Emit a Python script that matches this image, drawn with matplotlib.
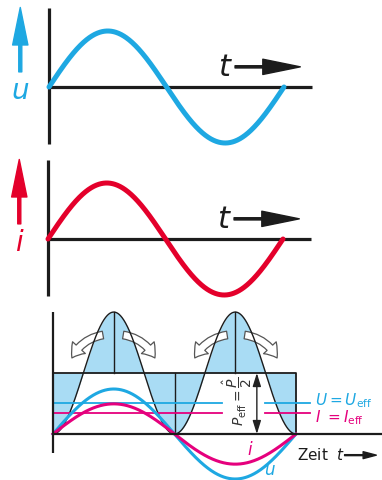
import numpy as np
import matplotlib.pyplot as plt
from matplotlib.patches import FancyArrowPatch

W, H = 382, 480

# values (drawing units, phase in degrees)
phase = np.linspace(0, 360, 721)
wave_amp = [1.0, 1.0]            # top u, middle i
wave_colors = ["#1ea8e2", "#e4002b"]
wave_labels = ["u", "i"]
u_hat, i_hat, p_hat = 1.0, 0.67, 2.71
u_eff, i_eff, p_eff = 0.69, 0.47, 1.355

blue = "#1ea8e2"
pink = "#e5007d"
fill = "#a9dcf4"
ink = "#1c1c1c"

fig = plt.figure(figsize=(W / 100, H / 100), dpi=100)


def panel(top, bottom, x0, y0, sx, sy):
    ax = fig.add_axes([0, 1 - bottom / H, 1, (bottom - top) / H])
    ax.set_xlim(-x0 / sx, (W - x0) / sx)
    ax.set_ylim(-(bottom - y0) / sy, (y0 - top) / sy)
    ax.axis("off")
    return ax


def arrow(ax, a, b, color, hl, hw, tw, ms=10, **kw):
    ax.add_patch(FancyArrowPatch(a, b, arrowstyle=f"simple,head_length={hl},head_width={hw},tail_width={tw}",
                                 mutation_scale=ms, color=color, shrinkA=0, shrinkB=0, **kw))


# top two panels: u and i
boxes = [(0, 155, 49, 87), (155, 305, 48, 239)]
for (top, bottom, x0, y0), amp, col, lab in zip(boxes, wave_amp, wave_colors, wave_labels):
    ax = panel(top, bottom, x0, y0, 235 / 360, 56)
    ax.plot([0, 0], [1.41, -1.02], color=ink, lw=2.3, solid_capstyle="butt")
    ax.plot([0, 403], [0, 0], color=ink, lw=2.3, solid_capstyle="butt")
    ax.plot(phase, amp * np.sin(np.radians(phase)), color=col, lw=3.6, solid_capstyle="round")
    ax.text(268, 0.35, "t", fontsize=22, style="italic", color=ink, ha="center", va="center")
    arrow(ax, (285, 0.36), (385, 0.36), ink, 2.7, 1.1, 0.16)
    arrow(ax, (-44, 0.27), (-44, 1.42), col, 2.7, 1.1, 0.22)
    ax.text(-44, -0.08, lab, fontsize=20, style="italic", color=col, ha="center", va="center")

# bottom panel: power
ax = panel(305, 480, 53, 434, 243 / 360, 45)
rad = np.radians(phase)
u = u_hat * np.sin(rad)
i = i_hat * np.sin(rad)
p = p_hat * np.sin(rad) ** 2

ax.fill_between(phase, p, p_eff, color=fill, lw=0)
ax.plot(phase, p, color=ink, lw=1.0)
ax.plot([0, 360, 360], [p_eff, p_eff, 0], color=ink, lw=1.3)
ax.plot([180, 180], [0, p_eff], color=ink, lw=1.0)
for c in [90, 270]:
    ax.plot([c, c], [p_eff, p_hat], color=ink, lw=1.0)

# effective value lines
for y, col in [(u_eff, blue), (i_eff, pink)]:
    ax.plot([0, 250], [y, y], color=col, lw=1.3)
    ax.plot([314, 381], [y, y], color=col, lw=1.3)
ax.text(388, u_eff + 0.06, r"$U = U_{\mathrm{eff}}$", fontsize=11, color=blue, va="center")
ax.text(388, i_eff - 0.1, r"$I\ = I_{\mathrm{eff}}$", fontsize=11, color=pink, va="center")

ax.plot(phase, u, color=blue, lw=2.2)
ax.plot(phase, i, color=pink, lw=2.2)

ax.plot([0, 0], [p_hat, -0.42], color=ink, lw=1.6, solid_capstyle="butt")
ax.plot([0, 520], [0, 0], color=ink, lw=1.6, solid_capstyle="butt")

# P_eff arrow and label
ax.annotate("", xy=(302, 0), xytext=(302, p_eff),
            arrowprops=dict(arrowstyle="<|-|>,head_length=0.8,head_width=0.25", color="#222222",
                            lw=1.0, shrinkA=0, shrinkB=0, mutation_scale=10))
ax.text(273, 0.72, r"$P_{\mathrm{eff}} = \dfrac{\hat{P}}{2}$", fontsize=10, color="#333333",
        rotation=90, ha="center", va="center")

# curved hollow arrows from the peaks into the valleys
pairs = [((74, 2.2), (28, 1.69), 0.25), ((104, 2.2), (151, 1.69), -0.25),
         ((258, 2.2), (210, 1.69), 0.25), ((284, 2.2), (332, 1.69), -0.25)]
for a, b, r in pairs:
    ax.add_patch(FancyArrowPatch(a, b, arrowstyle="simple,head_length=0.9,head_width=1.25,tail_width=0.55",
                                 connectionstyle=f"arc3,rad={r}", mutation_scale=10,
                                 fc="white", ec="#555555", lw=0.9, shrinkA=0, shrinkB=0))

ax.text(292, -0.36, "i", fontsize=12, style="italic", color=pink, ha="center", va="center")
ax.text(321, -0.8, "u", fontsize=12, style="italic", color=blue, ha="center", va="center")
ax.text(361, -0.47, "Zeit  $t$", fontsize=11, color=ink, va="center")
arrow(ax, (432, -0.47), (479, -0.47), ink, 1.9, 1.0, 0.14, ms=5)

fig.savefig("out.png", dpi=100, facecolor="white")
